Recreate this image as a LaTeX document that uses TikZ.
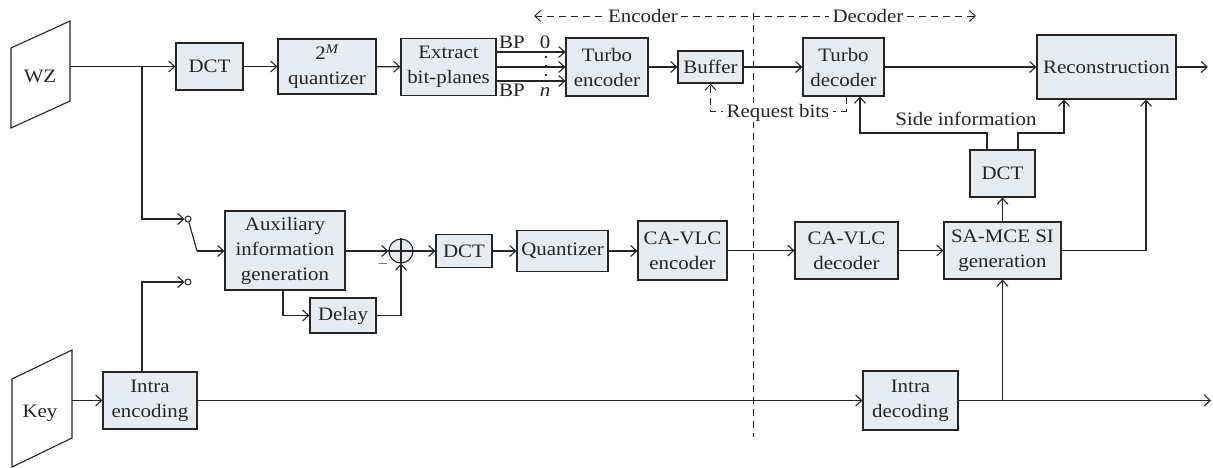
\documentclass[tikz,border=0pt]{standalone}
\usepackage{fontspec}
\setmainfont{Liberation Serif}[FakeStretch=1.1]
\usetikzlibrary{arrows.meta,calc}
\definecolor{boxfill}{RGB}{231,236,240}
\definecolor{ink}{RGB}{38,36,36}
\begin{document}
\begin{tikzpicture}[x=1pt,y=-1pt,
  font=\fontsize{19}{25}\selectfont,
  color=ink, line width=1.1pt,
  >={Straight Barb[length=6pt,width=11pt]},
  box/.style={draw=ink, fill=boxfill, align=center, inner sep=0pt, line width=1.1pt},
  dl/.style={dash pattern=on 7pt off 5pt, line width=1pt},
  term/.style={circle, draw=ink, fill=white, minimum size=6pt, inner sep=0pt, line width=1pt}
]
\useasboundingbox (0,0) rectangle (1213,467);

% sources
\draw (11,48) -- (70,21) -- (70,101) -- (11,128) -- cycle;
\node[anchor=base] (wz) at (40,82) {WZ};
\coordinate (wzout) at (70,66.5);
\draw (12,379) -- (72,350) -- (72,438) -- (12,467) -- cycle;
\node[anchor=base] (key) at (40,417) {Key};
\coordinate (keyout) at (72,400.5);

% top row
\node[box, minimum width=67pt, minimum height=47pt] (dct1) at (209.5,66.5) {DCT};
\node[box, minimum width=98pt, minimum height=55pt] (quant) at (327,66.5) {2\textsuperscript{\itshape M}\\quantizer};
\node[box, minimum width=95pt, minimum height=57pt] (extract) at (448.5,67) {Extract\\bit-planes};
\node[box, minimum width=82pt, minimum height=58pt] (tenc) at (607,67) {Turbo\\encoder};
\node[box, minimum width=65pt, minimum height=32pt] (buffer) at (710.5,67) {Buffer};
\node[box, minimum width=81pt, minimum height=58pt] (tdec) at (843.5,67) {Turbo\\decoder};
\node[box, minimum width=139pt, minimum height=64pt] (recon) at (1106.5,67) {Reconstruction};
\coordinate (out1) at (1208,67);

% middle row
\node[box, minimum width=120pt, minimum height=79pt] (aux) at (285,250.5) {Auxiliary\\information\\generation};
\node[circle, draw=ink, fill=boxfill, minimum size=24pt, inner sep=0pt] (sum) at (401,251) {};
\draw (sum.north) -- (sum.south);
\draw (sum.west) -- (sum.east);
\node[font=\fontsize{15}{16}\selectfont] (minus) at (383,264) {$-$};
\node[box, minimum width=56pt, minimum height=33pt] (dct2) at (464,251) {DCT};
\node[box, minimum width=91pt, minimum height=41pt] (quantizer) at (562.5,251) {Quantizer};
\node[box, minimum width=89pt, minimum height=59pt] (cenc) at (682.5,250.5) {CA-VLC\\encoder};
\node[box, minimum width=103pt, minimum height=57pt] (cdec) at (846.5,250.5) {CA-VLC\\decoder};
\node[box, minimum width=117pt, minimum height=57pt] (samce) at (1002.5,250.5) {SA-MCE SI\\generation};
\node[box, minimum width=65pt, minimum height=47pt] (dct3) at (1002.5,173.5) {DCT};
\node[box, minimum width=66pt, minimum height=35pt] (delay) at (343,315.5) {Delay};

% bottom row
\node[box, minimum width=94pt, minimum height=57pt] (ienc) at (150,400.5) {Intra\\encoding};
\node[box, minimum width=95pt, minimum height=59pt] (idec) at (910.5,400.5) {Intra\\decoding};
\coordinate (out2) at (1211,400.5);

% encoder / decoder divider
\coordinate (divT) at (753,13);
\coordinate (divB) at (753,437);
\draw[dl] (divT) -- (divB);
\coordinate (encL) at (534,16);
\coordinate (decR) at (976,16);
\node[anchor=base, fill=white, inner xsep=3pt, inner ysep=1pt] (enc) at (643,22) {Encoder};
\node[anchor=base, fill=white, inner xsep=3pt, inner ysep=1pt] (dec) at (868,22) {Decoder};
\draw[dl,<-] (encL) -- (encL -| enc.west);
\draw[dl] (enc.east |- encL) -- (dec.west |- encL);
\draw[dl,->] (dec.east |- encL) -- (decR);

% top row connectors
\draw[->] (wzout) -- (dct1.west);
\draw[->] (dct1) -- (quant);
\draw[->] (quant) -- (extract);
\draw[->] ([yshift=15pt]extract.east) -- ([yshift=15pt]extract.east -| tenc.west);
\draw[->] (extract.east) -- (tenc.west);
\draw[->] ([yshift=-14pt]extract.east) -- ([yshift=-14pt]extract.east -| tenc.west);
\node[anchor=base] (bp0) at (512,48) {BP};
\node[anchor=base] (zero) at (545,48) {0};
\node[anchor=base] (bpn) at (512,96) {BP};
\node[anchor=base] (nn) at (545,96) {\itshape n};
\fill (546,57) circle (1.3pt) (546,66) circle (1.3pt) (546,75) circle (1.3pt);
\draw[->] (tenc) -- (buffer);
\draw[->] (buffer) -- (tdec);
\draw[->] (tdec) -- (recon);
\draw[->] (recon) -- (out1);

% request bits
\coordinate (rq1) at (846,111);
\coordinate (rq2) at (710.5,111);
\draw[dl,->] ([xshift=2.5pt]tdec.south) -- (rq1) -- (rq2) -- (buffer.south);
\node[fill=white, inner xsep=4pt, inner ysep=1pt, anchor=base] (req) at (778,117) {Request bits};

% side information
\coordinate (si1) at (987,133);
\coordinate (si2) at (860,133);
\coordinate (si3) at (1018,133);
\coordinate (si4) at (1064,133);
\draw[->] ([xshift=-15.5pt]dct3.north) -- (si1) -- (si2) -- (si2 |- tdec.south);
\draw[->] ([xshift=15.5pt]dct3.north) -- (si3) -- (si4) -- (si4 |- recon.south);
\node[anchor=base] (sil) at (966,125) {Side information};
\coordinate (sr) at (1146,250.5);
\draw[->] (samce.east) -- (sr) -- (sr |- recon.south);
\draw[->] (samce) -- (dct3);

% switch
\coordinate (jw) at (142,66.5);
\node[term] (t1) at (188,219) {};
\node[term] (t2) at (188,282) {};
\coordinate (sw) at (197,251);
\draw[->] (jw) -- (142,219) -- (t1.west);
\draw ([xshift=1pt]t1.south) -- (sw);
\draw[->] (sw) -- (aux.west |- sw);
\draw[->] ([xshift=-8pt]ienc.north) -- (142,282) -- (t2.west);

% middle connectors
\draw[->] (aux.east |- sum) -- (sum.west);
\draw[->] (sum) -- (dct2);
\draw[->] (dct2) -- (quantizer);
\draw[->] (quantizer) -- (cenc.west |- quantizer);
\draw[->] (cenc) -- (cdec);
\draw[->] (cdec) -- (samce);
\draw[->] ([xshift=-2pt]aux.south) -- (283,315.5) -- (delay.west);
\draw[->] (delay.east) -- (401,315.5) -- (sum.south);

% bottom connectors
\draw[->] (keyout) -- (ienc.west);
\draw[->] (ienc) -- (idec);
\draw[->] (idec.east) -- (out2);
\draw[->] (idec.east -| samce.south) -- (samce.south);
\end{tikzpicture}
\end{document}
